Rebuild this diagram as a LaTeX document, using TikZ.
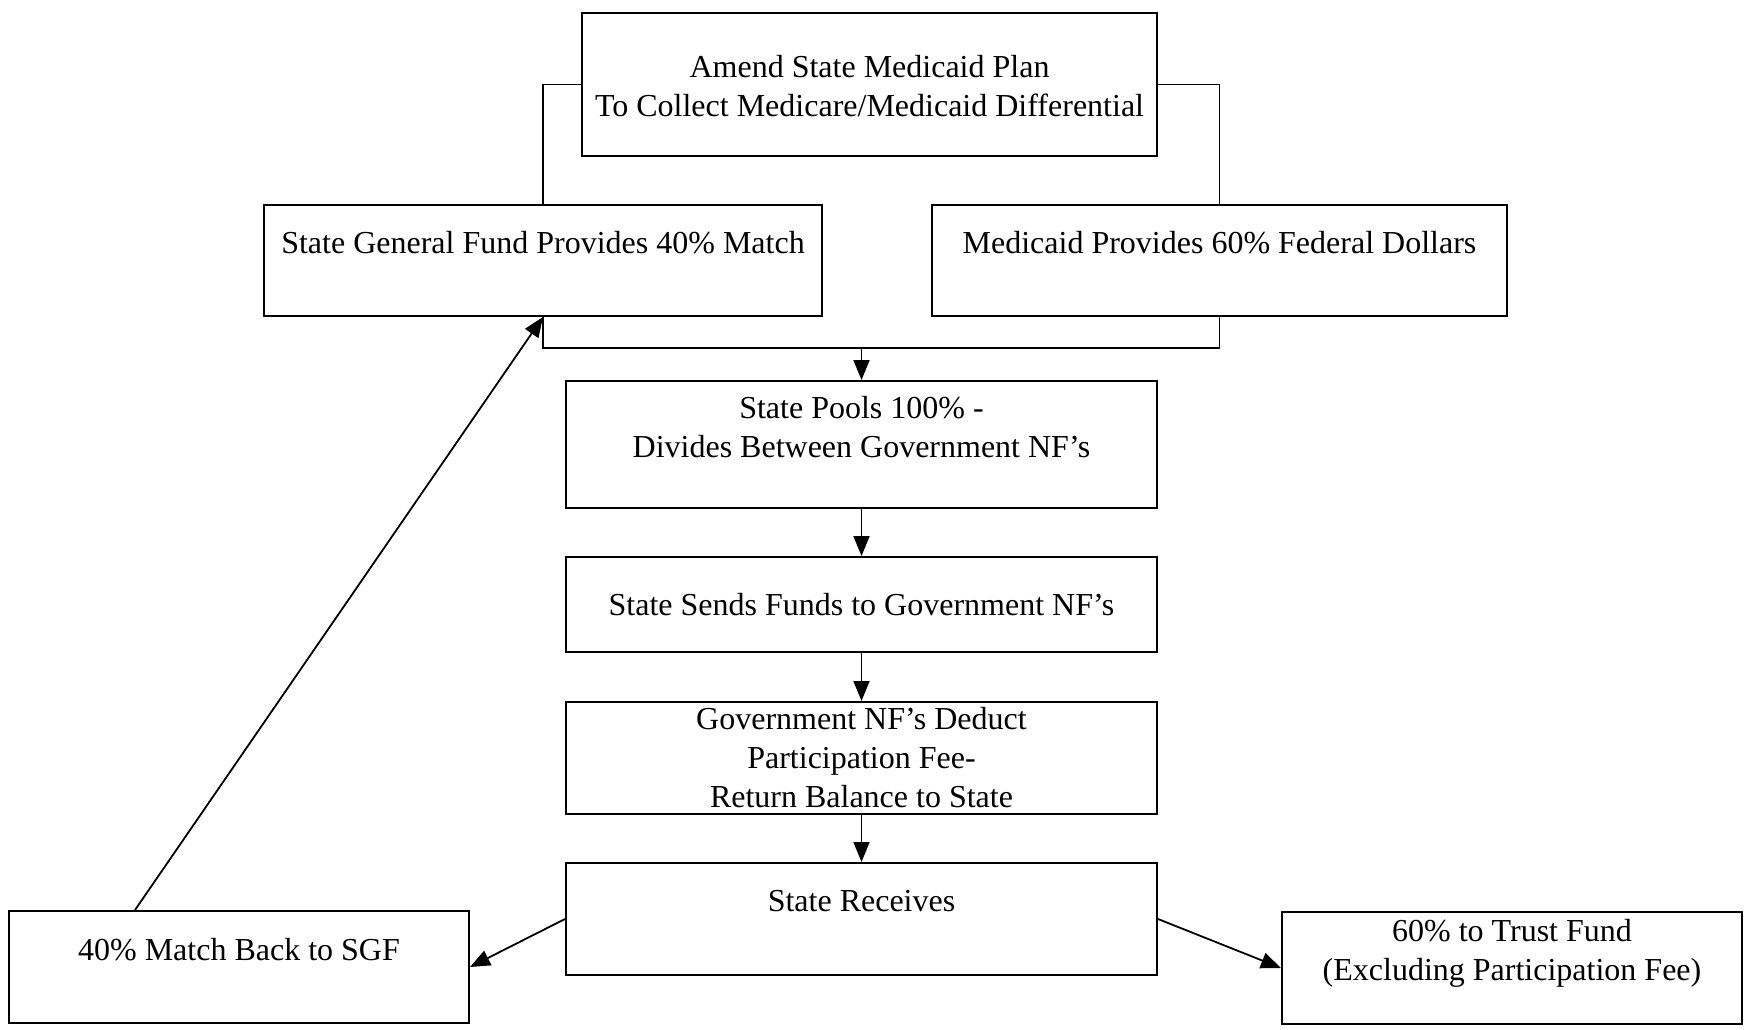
\documentclass[tikz,border=0pt]{standalone}
\usepackage{fontspec}
\setmainfont{Liberation Serif}
\usetikzlibrary{arrows.meta}

\tikzset{
  box/.style={draw, line width=1pt, inner sep=0pt},
  lbl/.style={align=center, font=\fontsize{16}{19.5}\selectfont},
  link/.style={line width=0.9pt},
  flow/.style={line width=0.9pt, -{Triangle[length=10pt,width=8pt]}},
}

\begin{document}
\begin{tikzpicture}[x=0.5pt, y=-0.5pt]
  \useasboundingbox (0,0) rectangle (1744,1029);
  % boxes
  \node[box, minimum width=287.5pt, minimum height=71.5pt] (amend) at (869.5,84.5) {};
  \node[box, minimum width=279pt, minimum height=55.5pt] (gf) at (543,260.5) {};
  \node[box, minimum width=287.5pt, minimum height=55.5pt] (fed) at (1219.5,260.5) {};
  \node[box, minimum width=295.5pt, minimum height=63.5pt] (pools) at (861.5,444.5) {};
  \node[box, minimum width=295.5pt, minimum height=47.5pt] (sends) at (861.5,604.5) {};
  \node[box, minimum width=295.5pt, minimum height=56pt] (deduct) at (861.5,758) {};
  \node[box, minimum width=295.5pt, minimum height=56pt] (recv) at (861.5,919) {};
  \node[box, minimum width=230pt, minimum height=56pt] (back) at (239,967) {};
  \node[box, minimum width=230pt, minimum height=56pt] (trust) at (1512,968) {};
  % texts
  \node[lbl] (amend text) at ([yshift=-1pt]amend.center) {Amend State Medicaid Plan\\To Collect Medicare/Medicaid Differential};
  \node[lbl] (gf text) at ([yshift=9pt]gf.center) {State General Fund Provides 40\% Match};
  \node[lbl] (fed text) at ([yshift=9pt]fed.center) {Medicaid Provides 60\% Federal Dollars};
  \node[lbl] (pools text) at ([yshift=8.5pt]pools.center) {State Pools 100\% -\\Divides Between Government NF’s};
  \node[lbl] (sends text) at (sends) {State Sends Funds to Government NF’s};
  \node[lbl] (deduct text) at (deduct) {Government NF’s Deduct\\Participation Fee-\\Return Balance to State};
  \node[lbl] (recv text) at ([yshift=9pt]recv.center) {State Receives};
  \node[lbl] (back text) at ([yshift=8.5pt]back.center) {40\% Match Back to SGF};
  \node[lbl] (trust text) at ([yshift=7.5pt]trust.center) {60\% to Trust Fund\\(Excluding Participation Fee)};
  % connectors
  \coordinate (join) at (861.5,348);
  \draw[link] (amend.west) -| (gf.north);
  \draw[link] (amend.east) -| (fed.north);
  \draw[link] (gf.south) |- (join) -| (fed.south);
  \draw[flow] (join) -- (pools);
  \draw[flow] (pools) -- (sends);
  \draw[flow] (sends) -- (deduct);
  \draw[flow] (deduct) -- (recv);
  \draw[flow] (recv.west) -- (back.east);
  \draw[flow] (recv.east) -- (trust.west);
  \draw[flow] ([xshift=63.5pt]back.north west) -- (gf.south);
\end{tikzpicture}
\end{document}
